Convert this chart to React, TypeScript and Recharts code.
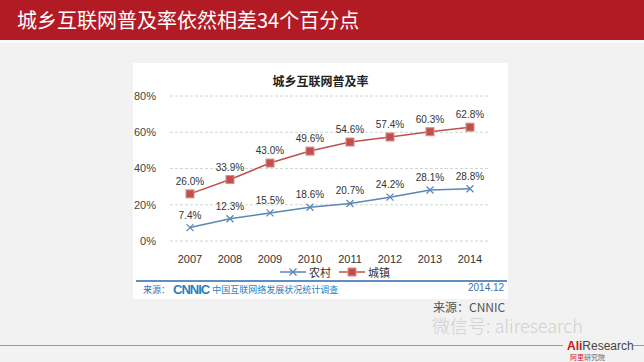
import {
  LineChart,
  Line,
  XAxis,
  YAxis,
  CartesianGrid,
  LabelList,
} from 'recharts'

const years = ['2007', '2008', '2009', '2010', '2011', '2012', '2013', '2014']
const rural = [7.4, 12.3, 15.5, 18.6, 20.7, 24.2, 28.1, 28.8]
const urban = [26.0, 33.9, 43.0, 49.6, 54.6, 57.4, 60.3, 62.8]
const yTicks = [0, 20, 40, 60, 80]
const boundaryTicks = [0, 1, 2, 3, 4, 5, 6, 7, 8]

const data = years.map((year, i) => ({ year, rural: rural[i], urban: urban[i] }))

const RURAL = '#5b87b5'
const URBAN = '#c0504d'
const CJK = '"Noto Sans CJK SC", "Liberation Sans", sans-serif'
const NUM = '"Liberation Sans", Arial, sans-serif'

const CrossDot = (props: any) => {
  const { cx, cy } = props
  if (cx == null || cy == null) return null
  const s = 3.5
  return (
    <g stroke={RURAL} strokeWidth={1.3}>
      <line x1={cx - s} y1={cy - s} x2={cx + s} y2={cy + s} />
      <line x1={cx - s} y1={cy + s} x2={cx + s} y2={cy - s} />
    </g>
  )
}

const SquareDot = (props: any) => {
  const { cx, cy } = props
  if (cx == null || cy == null) return null
  return (
    <rect x={cx - 4} y={cy - 4} width={8} height={8} fill={URBAN} stroke="#d98c8a" strokeWidth={1} />
  )
}

const ChartLegend = () => (
  <div
    style={{
      position: 'absolute',
      left: 280,
      top: 266,
      display: 'flex',
      gap: 8,
      alignItems: 'center',
      fontFamily: CJK,
      fontSize: 11,
      lineHeight: '12px',
      color: '#333',
    }}
  >
    <span style={{ display: 'flex', alignItems: 'center' }}>
      <svg width={26} height={10}>
        <line x1={0} y1={5} x2={26} y2={5} stroke={RURAL} strokeWidth={1.5} />
        <CrossDot cx={13} cy={5} />
      </svg>
      <span style={{ marginLeft: 3 }}>农村</span>
    </span>
    <span style={{ display: 'flex', alignItems: 'center' }}>
      <svg width={26} height={10}>
        <line x1={0} y1={5} x2={26} y2={5} stroke={URBAN} strokeWidth={1.5} />
        <SquareDot cx={13} cy={5} />
      </svg>
      <span style={{ marginLeft: 3 }}>城镇</span>
    </span>
  </div>
)

const pct = (v: any) => `${Number(v).toFixed(1)}%`

export default function App() {
  return (
    <div
      style={{
        position: 'absolute',
        left: 0,
        top: 0,
        width: 644,
        height: 362,
        background: '#f2f2f2',
        overflow: 'hidden',
        fontFamily: CJK,
      }}
    >
      {/* header */}
      <div style={{ position: 'absolute', left: 0, top: 0, width: 644, height: 40, background: '#b21b24' }} />
      <div style={{ position: 'absolute', left: 0, top: 40, width: 644, height: 3, background: '#fbfbfb' }} />
      <div
        style={{
          position: 'absolute',
          left: 17,
          top: 5,
          color: '#fff',
          fontSize: 20,
          lineHeight: '30px',
          whiteSpace: 'nowrap',
        }}
      >
        城乡互联网普及率依然相差34个百分点
      </div>

      {/* chart panel */}
      <div style={{ position: 'absolute', left: 133, top: 63, width: 375, height: 236, background: '#fff' }} />
      <div
        style={{
          position: 'absolute',
          left: 133,
          top: 72,
          width: 375,
          textAlign: 'center',
          fontSize: 12,
          fontWeight: 'bold',
          color: '#222',
        }}
      >
        城乡互联网普及率
      </div>
      <div style={{ position: 'absolute', left: 136, top: 280, width: 371, height: 2, background: '#5f8fbf' }} />
      <div
        style={{
          position: 'absolute',
          left: 143,
          top: 282,
          fontSize: 9,
          color: '#3c6fa8',
          display: 'flex',
          alignItems: 'center',
          whiteSpace: 'nowrap',
        }}
      >
        <span>来源：</span>
        <span style={{ fontFamily: NUM, fontWeight: 'bold', fontSize: 13, color: '#2a7fc0', letterSpacing: -1, margin: '0 3px' }}>
          CNNIC
        </span>
        <span style={{ color: '#2a7fc0' }}>中国互联网络发展状况统计调查</span>
      </div>
      <div style={{ position: 'absolute', left: 468, top: 282, fontSize: 10, fontFamily: NUM, color: '#3c6fa8' }}>
        2014.12
      </div>

      <div style={{ position: 'absolute', left: 0, top: 0 }}>
        <LineChart
          width={644}
          height={362}
          data={data}
          margin={{ top: 96, right: 154, bottom: 91, left: 120 }}
        >
          <CartesianGrid vertical={false} stroke="#c9dccc" strokeDasharray="3 2" />
          <XAxis
            xAxisId="bounds"
            type="number"
            domain={[0, 8]}
            ticks={boundaryTicks}
            height={0}
            tick={() => <g />}
            tickSize={5}
            tickLine={{ stroke: '#a6a6a6' }}
            axisLine={{ stroke: '#a6a6a6' }}
          />
          <XAxis
            dataKey="year"
            padding={{ left: 20, right: 20 }}
            height={30}
            axisLine={false}
            tickLine={false}
            tickMargin={8}
            tick={{ fontSize: 11, fill: '#333', fontFamily: NUM }}
            interval={0}
          />
          <YAxis
            domain={[0, 80]}
            ticks={yTicks}
            width={50}
            axisLine={false}
            tickLine={false}
            tickMargin={8}
            tickFormatter={(v) => `${v}%`}
            tick={{ fontSize: 11, fill: '#444', fontFamily: NUM }}
          />
          <Line
            dataKey="rural"
            stroke={RURAL}
            strokeWidth={1.5}
            dot={<CrossDot />}
            isAnimationActive={false}
          >
            <LabelList dataKey="rural" position="top" offset={9} formatter={pct} style={{ fontSize: 10, fill: '#333', fontFamily: NUM }} />
          </Line>
          <Line
            dataKey="urban"
            stroke={URBAN}
            strokeWidth={1.5}
            dot={<SquareDot />}
            isAnimationActive={false}
          >
            <LabelList dataKey="urban" position="top" offset={9} formatter={pct} style={{ fontSize: 10, fill: '#333', fontFamily: NUM }} />
          </Line>
        </LineChart>
      </div>
      <ChartLegend />

      {/* footer */}
      <div style={{ position: 'absolute', left: 433, top: 300, fontSize: 12, lineHeight: '14px', color: '#555', whiteSpace: 'nowrap' }}>
        来源：CNNIC
      </div>
      <div
        style={{
          position: 'absolute',
          left: 432,
          top: 316,
          fontSize: 18,
          lineHeight: '18px',
          color: '#d0d0d0',
          whiteSpace: 'nowrap',
          fontFamily: '"Noto Sans CJK SC", sans-serif',
          fontWeight: 300,
        }}
      >
        微信号: aliresearch
      </div>
      <div style={{ position: 'absolute', left: 0, top: 345, width: 563, height: 1, background: '#9a9a9a' }} />
      <div style={{ position: 'absolute', left: 633, top: 345, width: 11, height: 1, background: '#9a9a9a' }} />
      <div style={{ position: 'absolute', left: 567, top: 340, fontSize: 12, lineHeight: '12px', fontFamily: NUM, whiteSpace: 'nowrap', color: '#444' }}>
        <span style={{ color: '#c8161d', fontWeight: 'bold' }}>Ali</span>Research
      </div>
      <div style={{ position: 'absolute', left: 570, top: 353, fontSize: 7, lineHeight: '8px', whiteSpace: 'nowrap', color: '#666' }}>
        <span style={{ color: '#c8161d' }}>阿里</span>研究院
      </div>
    </div>
  )
}
